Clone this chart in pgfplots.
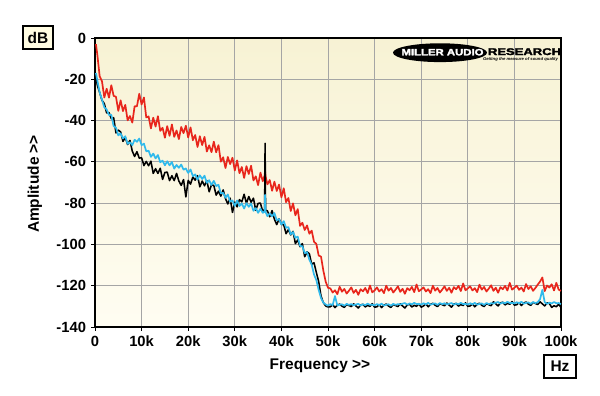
\documentclass[border=0pt]{standalone}
\usepackage{fontspec}
\setmainfont{Liberation Sans}
\newfontfamily\logofont{Liberation Sans Bold}[FakeBold=2.5]
\usepackage{graphicx}
\usepackage{pgfplots}
\pgfplotsset{compat=1.18}
\usepackage{pgfplotstable}
\definecolor{redc}{RGB}{232,38,28}
\definecolor{bluec}{RGB}{48,186,236}
\definecolor{gridc}{RGB}{165,165,165}
\definecolor{bgtop}{RGB}{247,242,212}
\definecolor{bgbot}{RGB}{255,253,242}
\definecolor{boxc}{RGB}{255,252,226}

\pgfplotstableread{
f R K B
0.2 -3.0 -18.5 -17.0
0.5 -8.1 -22.9 -20.5
1.0 -18.5 -26.4 -26.4
1.5 -21.0 -30.2 -29.9
2.0 -28.8 -31.8 -33.6
2.5 -24.6 -36.3 -34.6
3.0 -28.9 -36.1 -37.3
3.5 -22.9 -39.1 -37.2
4.0 -28.0 -38.6 -42.7
4.5 -28.5 -46.0 -43.4
5.0 -35.3 -44.6 -47.2
5.5 -30.2 -45.5 -46.2
6.0 -35.4 -50.1 -48.7
6.5 -32.4 -48.2 -47.6
7.0 -39.9 -51.6 -51.3
7.5 -37.8 -49.6 -50.5
8.0 -41.0 -54.8 -51.9
8.5 -33.1 -57.4 -49.3
9.0 -33.1 -55.1 -50.3
9.5 -27.0 -58.2 -48.7
10.0 -32.2 -58.0 -51.9
10.5 -28.8 -61.8 -51.2
11.0 -38.5 -59.8 -54.9
11.5 -38.0 -61.9 -54.6
12.0 -43.8 -59.7 -57.6
12.5 -38.6 -65.6 -56.0
13.0 -42.9 -63.3 -58.3
13.5 -37.9 -65.6 -56.7
14.0 -45.0 -63.1 -60.2
14.5 -43.5 -68.5 -59.4
15.0 -48.3 -65.1 -61.7
15.5 -42.7 -65.0 -59.7
16.0 -47.4 -69.1 -61.7
16.5 -41.9 -66.7 -60.1
17.0 -47.9 -69.1 -63.3
17.5 -44.8 -65.6 -61.5
18.0 -49.0 -69.3 -62.9
18.5 -43.1 -71.4 -61.3
19.0 -46.1 -68.6 -63.8
19.5 -42.5 -77.0 -63.2
20.0 -48.2 -69.0 -65.4
20.5 -43.3 -70.8 -63.7
21.0 -49.5 -67.3 -66.9
21.5 -47.0 -68.9 -66.1
22.0 -52.8 -66.7 -68.6
22.5 -47.6 -72.1 -66.5
23.0 -51.9 -69.3 -68.3
23.5 -47.9 -71.6 -66.7
24.0 -55.0 -69.1 -70.2
24.5 -52.0 -74.5 -68.9
25.0 -55.3 -71.1 -71.2
25.5 -50.2 -71.5 -69.2
26.0 -55.4 -76.1 -71.7
26.5 -51.9 -74.2 -71.1
27.0 -59.9 -76.6 -75.3
27.5 -57.8 -73.6 -75.0
28.0 -63.0 -77.8 -77.4
28.5 -57.6 -80.4 -75.8
29.0 -61.1 -77.6 -79.3
29.5 -58.0 -84.5 -78.7
30.0 -64.2 -79.5 -81.4
30.5 -59.3 -81.8 -78.7
31.0 -65.5 -78.3 -81.4
31.5 -62.5 -79.4 -80.1
32.0 -67.8 -75.7 -82.6
32.5 -62.1 -80.1 -80.0
33.0 -65.9 -76.8 -81.8
33.5 -61.9 -79.6 -80.2
34.0 -69.0 -77.6 -83.7
34.5 -67.0 -83.5 -82.4
35.0 -71.3 -80.1 -84.7
35.5 -65.2 -80.0 -82.7
36.0 -69.4 -84.1 -84.7
36.4 -66.5 -83.0 -84.0
36.5 -64.4 -51.0 -76.0
36.6 -67.0 -83.5 -84.3
37.0 -70.9 -83.7 -86.3
37.5 -68.8 -86.6 -85.0
38.0 -74.0 -83.6 -86.4
38.5 -69.6 -87.8 -84.8
39.0 -74.1 -90.4 -88.3
39.5 -71.0 -87.6 -87.7
40.0 -77.2 -90.2 -90.4
40.5 -72.8 -90.5 -88.7
41.0 -79.5 -94.8 -91.9
41.5 -77.5 -92.8 -91.6
42.0 -83.8 -95.4 -95.1
42.5 -80.1 -93.7 -94.0
43.0 -85.9 -99.6 -96.8
43.5 -82.9 -97.8 -96.2
44.0 -91.0 -101.1 -100.7
44.5 -89.5 -99.6 -100.9
45.0 -93.0 -106.0 -104.2
45.5 -90.8 -103.6 -103.7
46.0 -94.8 -104.5 -107.4
46.5 -93.3 -109.6 -109.8
47.0 -98.7 -108.9 -114.6
47.5 -99.8 -113.6 -117.3
48.0 -105.4 -118.0 -122.0
48.5 -105.9 -125.0 -126.0
49.0 -112.7 -128.2 -128.2
49.5 -118.0 -129.8 -129.1
50.0 -121.0 -130.3 -129.7
50.5 -121.3 -130.2 -128.9
51.0 -123.3 -129.2 -129.4
51.5 -122.2 -130.6 -125.0
52.0 -124.1 -129.4 -129.6
52.5 -120.5 -128.9 -129.2
53.0 -122.9 -129.9 -129.0
53.5 -121.6 -130.5 -129.7
54.0 -123.8 -129.1 -128.8
54.5 -122.4 -129.6 -129.3
55.0 -120.8 -130.1 -128.9
55.5 -123.5 -128.8 -129.5
56.0 -122.0 -129.8 -129.1
56.5 -124.4 -130.8 -128.8
57.0 -121.7 -129.3 -129.6
57.5 -122.7 -129.0 -129.0
58.0 -121.1 -130.3 -129.4
58.5 -123.6 -129.5 -128.7
59.0 -119.9 -130.0 -129.3
59.5 -123.2 -128.7 -129.2
60.0 -122.3 -130.4 -129.5
60.5 -120.8 -130.2 -128.9
61.0 -122.8 -129.2 -129.4
61.5 -121.7 -130.6 -128.7
62.0 -123.6 -129.4 -129.6
62.5 -120.0 -128.9 -129.2
63.0 -122.4 -129.9 -129.0
63.5 -121.1 -130.5 -129.7
64.0 -123.3 -129.1 -128.8
64.5 -121.9 -129.6 -129.3
65.0 -120.3 -130.1 -128.9
65.5 -123.0 -128.8 -129.1
66.0 -121.5 -129.8 -128.7
66.5 -123.9 -130.8 -128.4
67.0 -121.2 -129.3 -129.2
67.5 -122.2 -129.0 -128.6
68.0 -120.6 -130.3 -129.0
68.5 -123.1 -129.5 -128.3
69.0 -119.4 -130.0 -128.9
69.5 -122.7 -128.7 -128.8
70.0 -121.8 -130.4 -129.1
70.5 -120.8 -129.8 -128.5
71.0 -122.8 -128.8 -129.0
71.5 -121.7 -130.2 -128.3
72.0 -123.6 -129.0 -129.2
72.5 -120.0 -128.5 -128.8
73.0 -122.4 -129.5 -128.6
73.5 -121.1 -130.1 -129.3
74.0 -123.3 -128.7 -128.4
74.5 -121.9 -129.2 -128.9
75.0 -120.3 -129.7 -128.5
75.5 -122.5 -128.4 -129.1
76.0 -121.0 -129.4 -128.7
76.5 -123.4 -130.4 -128.4
77.0 -120.7 -128.9 -129.2
77.5 -121.7 -128.6 -128.6
78.0 -120.1 -129.9 -129.0
78.5 -122.6 -129.1 -128.3
79.0 -118.9 -129.6 -128.9
79.5 -122.2 -128.3 -128.8
80.0 -121.3 -130.0 -129.1
80.5 -120.3 -129.8 -128.5
81.0 -122.3 -128.8 -129.0
81.5 -121.2 -130.2 -128.3
82.0 -123.1 -129.0 -129.2
82.5 -119.5 -128.5 -128.8
83.0 -121.9 -129.5 -128.6
83.5 -120.6 -130.1 -129.3
84.0 -122.8 -128.7 -128.4
84.5 -121.4 -129.2 -128.9
85.0 -119.8 -129.7 -128.5
85.5 -122.5 -127.8 -128.6
86.0 -121.0 -128.8 -128.2
86.5 -123.4 -129.8 -127.9
87.0 -120.7 -128.3 -128.7
87.5 -121.7 -128.0 -128.1
88.0 -120.1 -129.3 -128.5
88.5 -122.3 -128.5 -127.8
89.0 -118.6 -129.0 -128.4
89.5 -121.9 -127.7 -128.3
90.0 -121.0 -129.4 -128.6
90.5 -120.0 -129.2 -128.0
91.0 -122.0 -128.2 -128.5
91.5 -120.9 -129.6 -127.8
92.0 -122.8 -128.4 -128.7
92.5 -119.2 -127.9 -128.3
93.0 -121.6 -128.9 -128.1
93.5 -120.3 -129.5 -128.8
94.0 -122.5 -128.1 -127.9
94.5 -121.1 -128.6 -128.4
95.0 -119.5 -129.1 -128.0
95.5 -118.0 -127.8 -126.5
96.0 -116.0 -128.8 -122.0
96.5 -122.6 -129.8 -128.0
97.0 -119.9 -128.3 -128.8
97.5 -120.9 -128.6 -128.2
98.0 -119.3 -130.5 -128.6
98.5 -122.3 -129.7 -127.9
99.0 -118.6 -130.2 -128.5
99.5 -121.9 -128.9 -128.4
100.0 -122.5 -130.6 -128.9
}\data

\begin{document}
\begin{tikzpicture}
\begin{scope}[x=0.25mm, y=-0.25mm, shift={(-23.75mm,81.75mm)}]
\path[use as bounding box] (0,0) rectangle (600,396);
\end{scope}
\begin{axis}[
  scale only axis,
  width=116.5mm, height=72.25mm,
  xmin=0, xmax=100, ymin=-140, ymax=0,
  xtick={0,10,20,30,40,50,60,70,80,90,100},
  xticklabels={0,10k,20k,30k,40k,50k,60k,70k,80k,90k,100k},
  ytick={-140,-120,-100,-80,-60,-40,-20,0},
  grid=major,
  major grid style={gridc, line width=0.7pt},
  axis line style={line width=1.1pt},
  tick align=outside,
  tick pos=left,
  major tick length=1mm,
  tick style={black, line width=0.6pt},
  ticklabel style={font=\bfseries\fontsize{10.5}{12}\selectfont},
  /pgf/number format/assume math mode=true,
  axis background/.style={top color=bgtop, bottom color=bgbot},
]
\addplot[redc, line width=1.2pt, line join=round] table[x=f, y=R] {\data};
\addplot[black, line width=1.1pt, line join=round] table[x=f, y=K] {\data};
\addplot[bluec, line width=1.2pt, line join=round] table[x=f, y=B] {\data};
\end{axis}
\begin{scope}[x=0.25mm, y=-0.25mm, shift={(-23.75mm,81.75mm)}]
\node[draw, line width=1pt, fill=boxc, minimum width=7.5mm, minimum height=5.75mm, inner sep=0pt,
      font=\bfseries\fontsize{11}{12}\selectfont] at (38,37.5) {dB};
\node[draw, line width=1pt, fill=white, minimum width=8mm, minimum height=5.75mm, inner sep=0pt,
      font=\bfseries\fontsize{11}{12}\selectfont] at (560,366.5) {Hz};
\node[font=\bfseries\fontsize{11}{12}\selectfont] at (320,366) {Frequency >\kern0pt>};
\node[rotate=90, font=\bfseries\fontsize{11}{12}\selectfont] at (35,184) {Amplitude >\kern0pt>};
\fill[black] (440,52.7) ellipse [x radius=11.75mm, y radius=2.35mm];
\node[white, inner sep=0pt] at (442.5,52.2) {\resizebox{20.5mm}{1.6mm}{\logofont MILLER AUDIO}};
\node[black, inner sep=0pt] at (524.5,51.7) {\resizebox{18.25mm}{1.7mm}{\logofont RESEARCH}};
\node[black, inner sep=0pt] at (520.5,59.3) {\resizebox{18.75mm}{0.75mm}{\bfseries\itshape Getting the measure of sound quality}};
\end{scope}
\end{tikzpicture}
\end{document}
